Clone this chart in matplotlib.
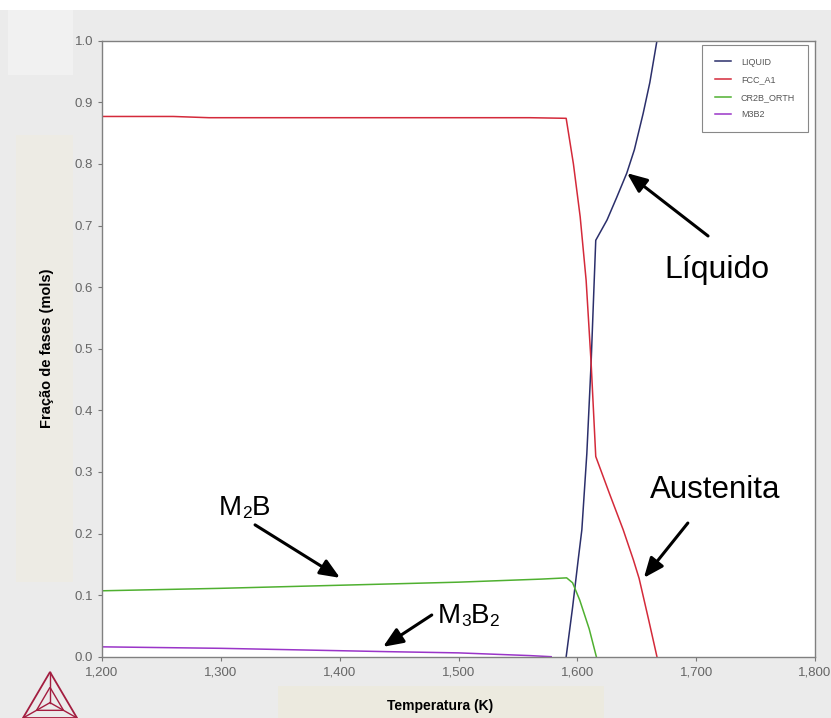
import matplotlib
matplotlib.use("Agg")
import matplotlib.pyplot as plt
from matplotlib.patches import Rectangle, Polygon
from matplotlib.lines import Line2D
from matplotlib.ticker import MultipleLocator, FuncFormatter

plt.rcParams["font.family"] = ["Liberation Sans", "DejaVu Sans"]

# Phase fractions vs temperature (K)
temp_liquid = [1590.6, 1596, 1600.7, 1603.8, 1608, 1611.6, 1614, 1615.5,
               1625, 1633, 1641.6, 1648, 1655.4, 1661, 1667]
liquid = [0.0, 0.08, 0.157, 0.206, 0.33, 0.477, 0.60, 0.676,
          0.709, 0.745, 0.785, 0.823, 0.882, 0.932, 1.0]

temp_fcc = [1200, 1260, 1290, 1400, 1500, 1560, 1590.6, 1596.7, 1602.4,
            1607.4, 1611.6, 1615.5, 1627, 1638.6, 1647.2, 1652, 1660, 1667]
fcc = [0.877, 0.877, 0.875, 0.875, 0.875, 0.875, 0.874, 0.80, 0.714,
       0.611, 0.477, 0.325, 0.265, 0.206, 0.157, 0.127, 0.06, 0.0]

temp_m2b = [1200, 1300, 1400, 1500, 1570, 1591, 1596, 1602, 1610, 1616]
m2b = [0.107, 0.111, 0.116, 0.121, 0.126, 0.128, 0.12, 0.092, 0.045, 0.0]

temp_m3b2 = [1200, 1300, 1440, 1500, 1560, 1578]
m3b2 = [0.016, 0.0136, 0.0082, 0.0062, 0.0018, 0.0]

series_names = ["LIQUID", "FCC_A1", "CR2B_ORTH", "M3B2"]
series_colors = ["#2b2f6b", "#d42a3a", "#4fb030", "#9a35c8"]

W, H = 831, 718


def fx(x):
    return x / W


def fy(y):
    return 1 - y / H


def chem_label(ax, x, y, parts, size):
    """Write a formula like M2B with small digits sitting on the baseline."""
    prev = ax.text(x, y, parts[0], fontsize=size, ha="left", va="baseline")
    for s in parts[1:]:
        small = s.isdigit()
        prev = ax.annotate(s, xy=(1, 0), xycoords=prev, ha="left", va="bottom",
                           fontsize=size * 0.62 if small else size)
    return prev


fig = plt.figure(figsize=(W / 100, H / 100), dpi=100, facecolor="#ebebeb")

# background panels around the plot
fig.add_artist(Rectangle((0, fy(10)), 1, 10 / H, transform=fig.transFigure,
                         facecolor="white", edgecolor="none", zorder=0))
fig.add_artist(Rectangle((fx(8), fy(75)), 65 / W, 65 / H, transform=fig.transFigure,
                         facecolor="#f1f1f1", edgecolor="none", zorder=0))
fig.add_artist(Rectangle((fx(16), fy(582)), 57 / W, 447 / H, transform=fig.transFigure,
                         facecolor="#edebe4", edgecolor="none", zorder=0))
fig.add_artist(Rectangle((fx(278), 0), 326 / W, 32 / H, transform=fig.transFigure,
                         facecolor="#eceadf", edgecolor="none", zorder=0))

# small triangle logo, bottom left
apex = (fx(50), fy(672))
left = (fx(23), fy(718))
right = (fx(77), fy(718))
centre = ((apex[0] + left[0] + right[0]) / 3, (apex[1] + left[1] + right[1]) / 3)
logo_col = "#a31d40"
fig.add_artist(Polygon([apex, left, right], closed=True, fill=False,
                       edgecolor=logo_col, lw=1.3, transform=fig.transFigure))
inner = [((p[0] + centre[0]) / 2, (p[1] + centre[1]) / 2) for p in (apex, left, right)]
fig.add_artist(Polygon(inner, closed=True, fill=False, edgecolor=logo_col,
                       lw=1.0, transform=fig.transFigure))
for p in (apex, left, right):
    fig.add_artist(Line2D([p[0], centre[0]], [p[1], centre[1]], color=logo_col,
                          lw=1.0, transform=fig.transFigure))

ax = fig.add_axes([fx(102), fy(656.7), 713 / W, 616 / H])
ax.set_facecolor("white")

lw = 1.1
ax.plot(temp_liquid, liquid, color=series_colors[0], lw=lw, label=series_names[0])
ax.plot(temp_fcc, fcc, color=series_colors[1], lw=lw, label=series_names[1])
ax.plot(temp_m2b, m2b, color=series_colors[2], lw=lw, label=series_names[2])
ax.plot(temp_m3b2, m3b2, color=series_colors[3], lw=lw, label=series_names[3])

ax.set_xlim(1200, 1800)
ax.set_ylim(0, 1.0)
ax.xaxis.set_major_locator(MultipleLocator(100))
ax.yaxis.set_major_locator(MultipleLocator(0.1))
ax.xaxis.set_major_formatter(FuncFormatter(lambda v, p: f"{v:,.0f}"))
ax.yaxis.set_major_formatter(FuncFormatter(lambda v, p: f"{v:.1f}"))
ax.tick_params(direction="out", length=3, width=0.8, color="#777777",
               labelcolor="#666666", labelsize=9.5)
ax.tick_params(axis="x", pad=4)
for s in ax.spines.values():
    s.set_color("#808080")
    s.set_linewidth(1.0)

ax.set_ylabel("Fração de fases (mols)", fontsize=10.5, fontweight="bold", va="center")
ax.yaxis.set_label_coords(-0.077, 0.5)
ax.set_xlabel("Temperatura (K)", fontsize=10, fontweight="bold", va="center")
ax.xaxis.set_label_coords(0.474, -0.080)

leg = ax.legend(loc="upper right", bbox_to_anchor=(0.990, 0.993), borderaxespad=0,
                fontsize=6.5, frameon=True, fancybox=False, framealpha=1,
                edgecolor="#888888", handlelength=1.8, handletextpad=1.1,
                labelspacing=0.95, borderpad=1.4)
leg.get_frame().set_linewidth(0.8)
for t in leg.get_texts():
    t.set_color("#555555")

# phase annotations with arrows
arrow = dict(arrowstyle="-|>,head_length=0.6,head_width=0.25", color="black",
             lw=2.2, mutation_scale=20, shrinkA=0, shrinkB=0)
ax.annotate("", xy=(1641.8, 0.785), xytext=(1710, 0.683), arrowprops=arrow)
ax.text(1717.5, 0.615, "Líquido", fontsize=23, ha="center", va="baseline")

ax.annotate("", xy=(1656, 0.128), xytext=(1693, 0.217), arrowprops=arrow)
ax.text(1716, 0.258, "Austenita", fontsize=22.5, ha="center", va="baseline")

ax.annotate("", xy=(1400.3, 0.128), xytext=(1328.8, 0.214), arrowprops=arrow)
chem_label(ax, 1298.5, 0.230, ["M", "2", "B"], 20)

ax.annotate("", xy=(1436.5, 0.016), xytext=(1477.5, 0.0677), arrowprops=arrow)
chem_label(ax, 1482.8, 0.0547, ["M", "3", "B", "2"], 20)

fig.savefig("out.png", dpi=100, facecolor=fig.get_facecolor())
